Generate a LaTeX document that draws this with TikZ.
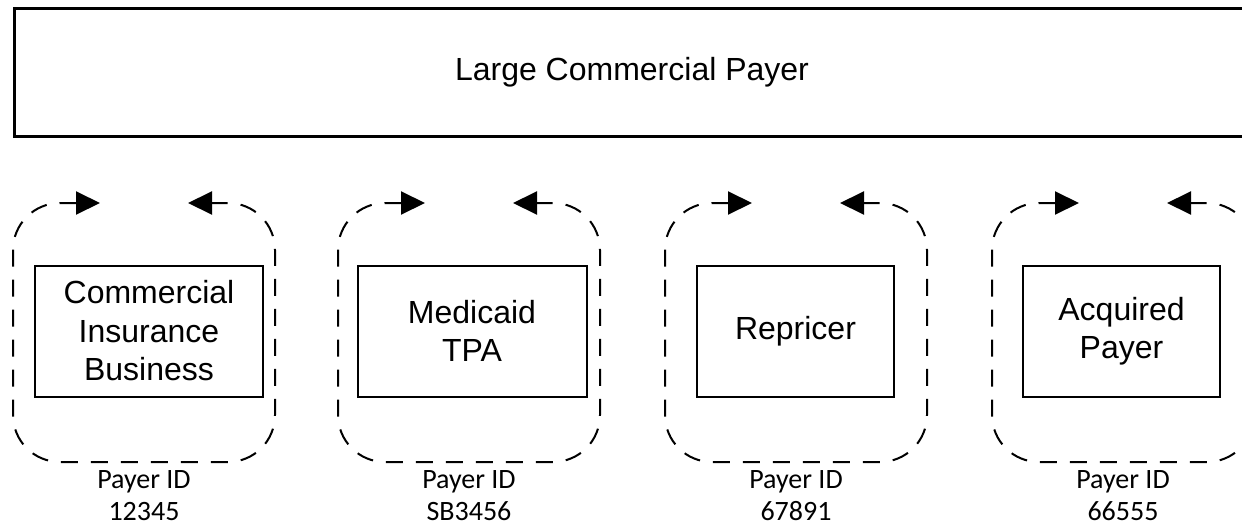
\documentclass[tikz,border=0pt]{standalone}
\usepackage{fontspec}
\setmainfont{Liberation Sans}
\newfontfamily\idfont{Carlito}
\usetikzlibrary{arrows.meta}
\begin{document}
\begin{tikzpicture}[x=1pt,y=-1pt,
  every node/.style={inner sep=0pt, outer sep=0pt},
  payer/.style={draw, line width=3pt, minimum width=1236pt, minimum height=128pt,
    font=\fontsize{32}{38.5}\selectfont},
  unitbox/.style={draw, line width=2pt, minimum height=131pt, align=center,
    font=\fontsize{32}{38.5}\selectfont},
  idlabel/.style={align=center, font=\idfont\fontsize{28}{32}\selectfont},
  flowloop/.style={line width=2pt, dash pattern=on 17pt off 13pt, rounded corners=47pt,
    {Triangle[length=24pt,width=23pt]}-{Triangle[length=24pt,width=23pt]}}]
  \clip (0,0) rectangle (1242,525);

  % parent organisation
  \node[payer] (parent) at (632,72.5) {Large Commercial Payer};

  % business units
  \node[unitbox, minimum width=228pt] (cib) at (149,331) {Commercial\\Insurance\\Business};
  \node[unitbox, minimum width=229pt] (tpa) at (472,331) {Medicaid\\TPA};
  \node[unitbox, minimum width=197pt] (rep) at (795.5,331) {Repricer};
  \node[unitbox, minimum width=197pt] (acq) at (1121.5,331) {Acquired\\Payer};

  % dashed round-trip loops around each unit
  \foreach \lx/\k in {13/1,338/2,665/3,992/4} {
    \coordinate (in\k) at (\lx+87,203);
    \coordinate (back\k) at (\lx+175,203);
    \draw[flowloop] (in\k) -- (\lx,203) -- (\lx,462) -- (\lx+262,462)
      -- (\lx+262,203) -- (back\k);
  }

  % payer identifiers (anchored on the baseline of the second line)
  \node[idlabel, anchor=base] (id1) at (144,520) {Payer ID\\12345};
  \node[idlabel, anchor=base] (id2) at (469,520) {Payer ID\\SB3456};
  \node[idlabel, anchor=base] (id3) at (796,520) {Payer ID\\67891};
  \node[idlabel, anchor=base] (id4) at (1123,520) {Payer ID\\66555};
\end{tikzpicture}
\end{document}
